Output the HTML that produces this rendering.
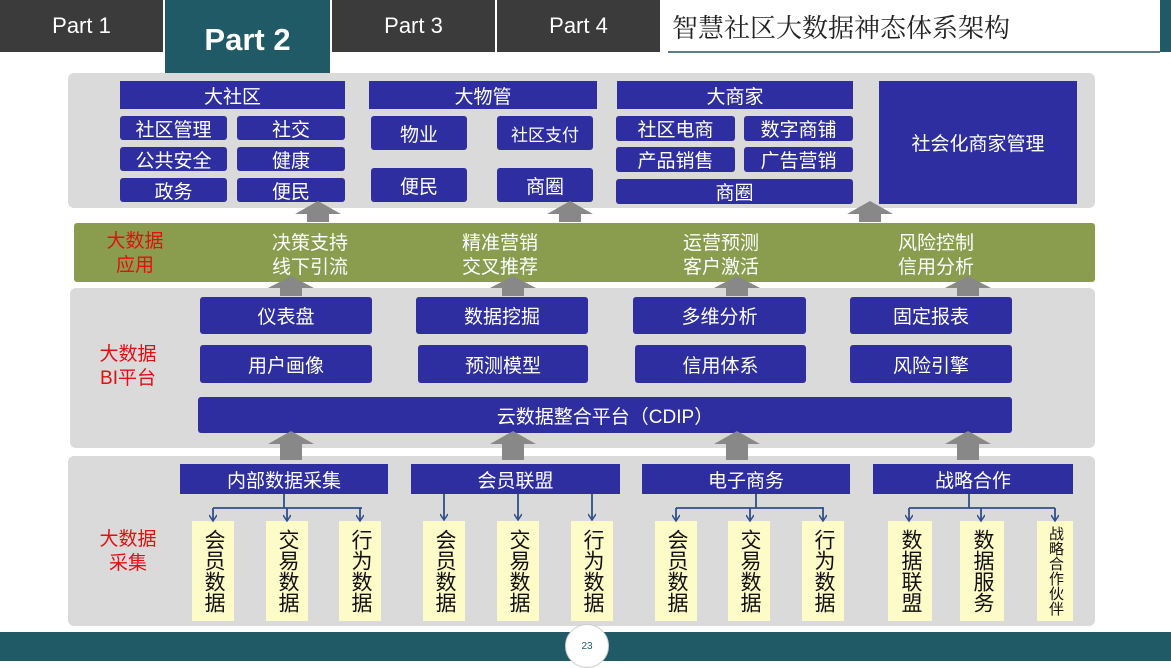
<!DOCTYPE html>
<html><head><meta charset="utf-8"><style>
*{margin:0;padding:0;box-sizing:border-box}
body{width:1171px;height:661px;position:relative;overflow:hidden;background:#fff;font-family:"Liberation Sans","Noto Sans CJK SC",sans-serif}
.a{position:absolute}
.tab{position:absolute;top:0;height:52px;background:#3b3b3b;color:#fff;font-size:22px;display:flex;align-items:center;justify-content:center}
.b{position:absolute;background:#2e2ea0;color:#fff;display:flex;align-items:center;justify-content:center;font-size:19px;border-radius:3px}
.h{border-radius:0}
.p{position:absolute;background:#dadada;border-radius:6px}
.red{position:absolute;color:#e31010;font-size:19px;line-height:24px;text-align:center}
.gt{position:absolute;color:#fff;font-size:19px;line-height:24px;text-align:center;width:140px}
.y{position:absolute;top:521px;height:100px;width:42px;background:#fdfbc8;color:#111;font-size:21px;line-height:22px;text-align:center;display:flex;align-items:center;justify-content:center;writing-mode:vertical-rl;letter-spacing:0}
</style></head><body>
<div class="tab" style="left:0;width:163px">Part 1</div>
<div class="tab" style="left:332px;width:163px">Part 3</div>
<div class="tab" style="left:497px;width:163px">Part 4</div>
<div class="a" style="left:165px;top:0;width:165px;height:73px;background:#1f5a66;color:#fff;font-size:31px;font-weight:bold;display:flex;align-items:center;justify-content:center;padding-top:6px">Part 2</div>
<div class="a" style="left:672px;top:8px;font-size:26px;color:#222;font-family:'Liberation Serif','Noto Serif CJK SC',serif">智慧社区大数据神态体系架构</div>
<div class="a" style="left:668px;top:51px;width:492px;height:2px;background:#5a7f88"></div>
<div class="a" style="left:1160px;top:0;width:11px;height:52px;background:#1f5a66"></div>

<div class="p" style="left:68px;top:73px;width:1027px;height:135px"></div>
<div class="b h" style="left:120px;top:81px;width:225px;height:28px">大社区</div>
<div class="b" style="left:120px;top:116px;width:107px;height:24px">社区管理</div>
<div class="b" style="left:237px;top:116px;width:108px;height:24px">社交</div>
<div class="b" style="left:120px;top:147px;width:107px;height:24px">公共安全</div>
<div class="b" style="left:237px;top:147px;width:108px;height:24px">健康</div>
<div class="b" style="left:120px;top:178px;width:107px;height:24px">政务</div>
<div class="b" style="left:237px;top:178px;width:108px;height:24px">便民</div>
<div class="b h" style="left:369px;top:81px;width:228px;height:28px">大物管</div>
<div class="b" style="left:371px;top:116px;width:96px;height:34px">物业</div>
<div class="b" style="left:497px;top:116px;width:96px;height:34px;font-size:17px">社区支付</div>
<div class="b" style="left:371px;top:168px;width:96px;height:34px">便民</div>
<div class="b" style="left:497px;top:168px;width:96px;height:34px">商圈</div>
<div class="b h" style="left:617px;top:81px;width:236px;height:28px">大商家</div>
<div class="b" style="left:616px;top:116px;width:119px;height:25px">社区电商</div>
<div class="b" style="left:744px;top:116px;width:109px;height:25px">数字商铺</div>
<div class="b" style="left:616px;top:147px;width:119px;height:25px">产品销售</div>
<div class="b" style="left:744px;top:147px;width:109px;height:25px">广告营销</div>
<div class="b" style="left:616px;top:179px;width:237px;height:25px">商圈</div>
<div class="b h" style="left:879px;top:81px;width:198px;height:123px">社会化商家管理</div>

<div class="a" style="left:74px;top:223px;width:1021px;height:59px;background:#8a9d4f;border-radius:3px"></div>
<div class="red" style="left:95px;top:230px;width:80px">大数据<br>应用</div>
<div class="gt" style="left:240px;top:232px">决策支持<br>线下引流</div>
<div class="gt" style="left:430px;top:232px">精准营销<br>交叉推荐</div>
<div class="gt" style="left:651px;top:232px">运营预测<br>客户激活</div>
<div class="gt" style="left:866px;top:232px">风险控制<br>信用分析</div>

<div class="p" style="left:70px;top:288px;width:1025px;height:160px"></div>
<div class="red" style="left:88px;top:343px;width:80px">大数据<br>BI平台</div>
<div class="b" style="left:200px;top:297px;width:172px;height:37px">仪表盘</div>
<div class="b" style="left:416px;top:297px;width:172px;height:37px">数据挖掘</div>
<div class="b" style="left:633px;top:297px;width:173px;height:37px">多维分析</div>
<div class="b" style="left:850px;top:297px;width:162px;height:37px">固定报表</div>
<div class="b" style="left:200px;top:345px;width:172px;height:38px">用户画像</div>
<div class="b" style="left:418px;top:345px;width:170px;height:38px">预测模型</div>
<div class="b" style="left:635px;top:345px;width:171px;height:38px">信用体系</div>
<div class="b" style="left:850px;top:345px;width:162px;height:38px">风险引擎</div>
<div class="b" style="left:198px;top:397px;width:814px;height:36px">云数据整合平台（CDIP）</div>

<div class="p" style="left:68px;top:456px;width:1027px;height:170px"></div>
<div class="red" style="left:88px;top:528px;width:80px">大数据<br>采集</div>
<div class="b h" style="left:180px;top:464px;width:208px;height:30px">内部数据采集</div>
<div class="b h" style="left:411px;top:464px;width:209px;height:30px">会员联盟</div>
<div class="b h" style="left:642px;top:464px;width:208px;height:30px">电子商务</div>
<div class="b h" style="left:873px;top:464px;width:200px;height:30px">战略合作</div>
<div class="y" style="left:192px">会员数据</div>
<div class="y" style="left:266px">交易数据</div>
<div class="y" style="left:339px">行为数据</div>
<div class="y" style="left:423px">会员数据</div>
<div class="y" style="left:497px">交易数据</div>
<div class="y" style="left:571px">行为数据</div>
<div class="y" style="left:655px">会员数据</div>
<div class="y" style="left:728px">交易数据</div>
<div class="y" style="left:802px">行为数据</div>
<div class="y" style="left:888px;width:44px">数据联盟</div>
<div class="y" style="left:960px;width:44px">数据服务</div>
<div class="y" style="left:1037px;width:36px;font-size:15px;line-height:16px">战略合作伙伴</div>

<svg class="a" style="left:0;top:0" width="1171" height="661">
<defs><marker id="m" markerWidth="8" markerHeight="8" refX="4" refY="7" orient="0" markerUnits="userSpaceOnUse"><path d="M0,1 L4,7 L8,1" fill="none" stroke="#2f4f8a" stroke-width="1.5"/></marker></defs>
<g fill="#888">
<path d="M307,222 h22 v-8 h12 l-23,-13 -23,13 h12z"/>
<path d="M559,222 h22 v-8 h12 l-23,-13 -23,13 h12z"/>
<path d="M859,222 h22 v-8 h12 l-23,-13 -23,13 h12z"/>
<path d="M280,296 h22 v-8 h12 l-23,-12 -23,12 h12z"/>
<path d="M502,296 h22 v-8 h12 l-23,-12 -23,12 h12z"/>
<path d="M726,296 h22 v-8 h12 l-23,-12 -23,12 h12z"/>
<path d="M957,296 h22 v-8 h12 l-23,-12 -23,12 h12z"/>
<path d="M280,460 h22 v-16 h12 l-23,-13 -23,13 h12z"/>
<path d="M502,460 h22 v-16 h12 l-23,-13 -23,13 h12z"/>
<path d="M726,460 h22 v-16 h12 l-23,-13 -23,13 h12z"/>
<path d="M957,460 h22 v-16 h12 l-23,-13 -23,13 h12z"/>
</g>
<g stroke="#2f4f8a" stroke-width="1.8" fill="none">
<path d="M284,494 v14 M213,508 h149"/><path d="M213,508 v13" marker-end="url(#m)"/><path d="M287,508 v13" marker-end="url(#m)"/><path d="M360,508 v13" marker-end="url(#m)"/>
<path d="M444,494 v26" marker-end="url(#m)"/><path d="M518,494 v26" marker-end="url(#m)"/><path d="M592,494 v26" marker-end="url(#m)"/>
<path d="M756,494 v14 M676,508 h148"/><path d="M676,508 v13" marker-end="url(#m)"/><path d="M750,508 v13" marker-end="url(#m)"/><path d="M823,508 v13" marker-end="url(#m)"/>
<path d="M969,494 v14 M909,508 h146"/><path d="M909,508 v13" marker-end="url(#m)"/><path d="M981,508 v13" marker-end="url(#m)"/><path d="M1055,508 v13" marker-end="url(#m)"/>
</g>
</svg>

<div class="a" style="left:0;top:632px;width:1171px;height:29px;background:#1f5a66"></div>
<div class="a" style="left:565px;top:624px;width:44px;height:44px;border-radius:50%;background:#fff;border:1px solid #ccc;color:#1f5a66;font-size:10px;display:flex;align-items:center;justify-content:center">23</div>
</body></html>
